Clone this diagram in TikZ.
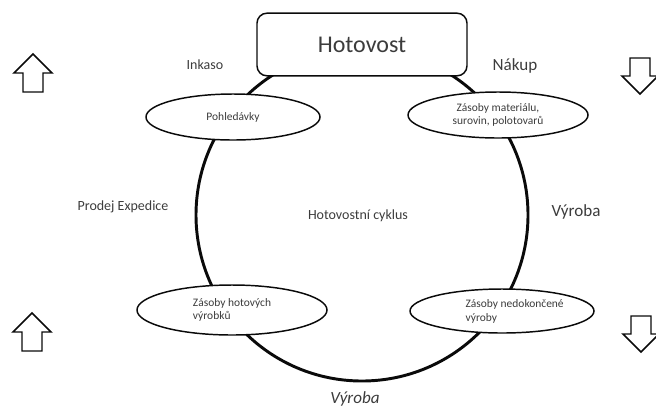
\documentclass[tikz,border=0pt]{standalone}
\usepackage{fontspec}
\setmainfont{Carlito}
\usepackage{tikz}
\usetikzlibrary{shapes.geometric,positioning}
\definecolor{InkGray}{RGB}{60,60,60}
\definecolor{LineBlack}{RGB}{10,10,10}
\tikzset{
  cashbox/.style  ={rectangle, rounded corners=7.5pt, draw=LineBlack, line width=1.1pt,
                    fill=white, text=InkGray, minimum width=157.5pt, minimum height=47pt,
                    font=\fontsize{18pt}{20pt}\selectfont},
  stockel/.style  ={ellipse, draw=LineBlack, line width=1.1pt, fill=white, text=InkGray,
                    inner sep=0pt, align=center, font=\fontsize{8.6pt}{10pt}\selectfont},
  eltext/.style   ={text=InkGray, align=left, inner sep=0pt,
                    font=\fontsize{8.6pt}{10.5pt}\selectfont},
  lbl/.style      ={text=InkGray, inner sep=1pt, font=\fontsize{10.5pt}{12pt}\selectfont},
  biglbl/.style   ={text=InkGray, inner sep=1pt, font=\fontsize{12.8pt}{14pt}\selectfont},
  cycline/.style  ={draw=LineBlack, line width=2.2pt},
  blockarr/.style ={draw=LineBlack, line width=1.1pt, fill=white, line join=miter},
}
\begin{document}
\begin{tikzpicture}[x=0.75pt,y=-0.75pt]
  \useasboundingbox (0,0) rectangle (656,412);

  % cash cycle
  \coordinate (ctr) at (362,215);
  \draw[cycline] (ctr) circle[radius=124.5pt];

  \node[cashbox] (cash) at (362,44.5) {Hotovost};

  \node[stockel,minimum width=130.5pt,minimum height=34.5pt] (recv) at (233,117) {Pohled\'avky};
  \node[stockel,minimum width=135pt,minimum height=34.5pt] (mat) at (498,115)
    {Z\'asoby materi\'alu,\\sur\-ovin, polotovar\r{u}};
  \node[stockel,align=left,minimum width=142.5pt,minimum height=37.5pt] (fin) at (232,310)
    {Z\'asoby hotov\'ych\\v\'yrobk\r{u}};
  \node[stockel,minimum width=138pt,minimum height=33pt,
        label={[eltext,xshift=9.5pt,yshift=-0.5pt]center:{Z\'asoby nedokon\v{c}en\'e\\v\'yroby}}]
    (wip) at (502,311) {};

  % labels
  \node[lbl] (inc) at (205,65) {Inkaso};
  \node[biglbl] (buy) at (515,66) {N\'akup};
  \node[lbl] (sell) at (123,207) {Prodej Expedice};
  \node[lbl] (cyc) at (358,216) {Hotovostn\'i cyklus};
  \node[biglbl] (prodr) at (576,212) {V\'yroba};
  \node[biglbl,font=\fontsize{12.8pt}{14pt}\selectfont\itshape] (prodb) at (355,399) {V\'yroba};

  % block arrows
  \foreach \x/\y in {33/54,32/313}{
    \draw[blockarr] (\x,\y) -- ++(19,19) -- ++(-9,0) -- ++(0,19) -- ++(-20,0)
      -- ++(0,-19) -- ++(-9,0) -- cycle;
  }
  \foreach \x/\y in {640/94,641/352}{
    \draw[blockarr] (\x,\y) -- ++(18,-18) -- ++(-8,0) -- ++(0,-18) -- ++(-20,0)
      -- ++(0,18) -- ++(-8,0) -- cycle;
  }
\end{tikzpicture}
\end{document}
